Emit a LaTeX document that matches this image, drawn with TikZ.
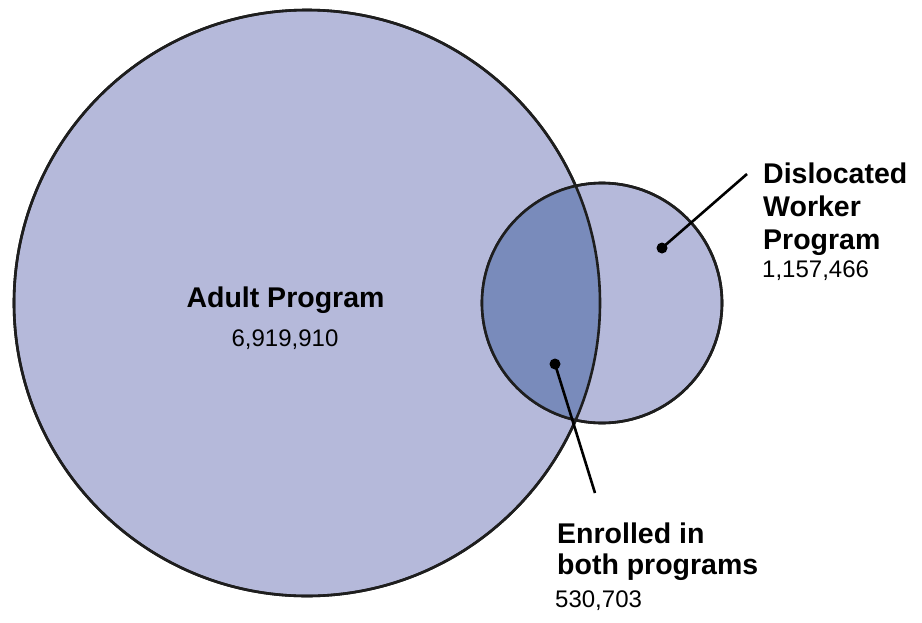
\documentclass[tikz,border=0pt]{standalone}
\usepackage{fontspec}
\setmainfont{Liberation Sans}
\usepackage{tikz}
\usetikzlibrary{positioning}
\definecolor{vennlight}{RGB}{181,185,218}
\definecolor{venndark}{RGB}{121,139,187}
\definecolor{vennline}{RGB}{30,30,30}
\tikzset{
  venn/.style = {circle, draw=vennline, line width=2.6pt, fill=vennlight,
      inner sep=0pt, outer sep=0pt},
  pin dot/.style = {circle, fill=black, inner sep=0pt, minimum size=11pt},
  lead/.style = {line width=2.6pt, draw=black},
  head/.style = {font=\fontsize{28.5}{33}\selectfont\bfseries, align=left,
      inner sep=0pt, anchor=north west},
  count/.style = {font=\fontsize{24}{28}\selectfont, inner sep=0pt}
}

\begin{document}
\begin{tikzpicture}[x=1pt, y=-1pt]
  \useasboundingbox (0,0) rectangle (922,622);

  % the two programs
  \node[venn, minimum size=586pt] (adult) at (307,303) {};
  \node[venn, minimum size=240pt] (dw) at (602,303) {};
  \begin{scope}
    \clip (adult.center) circle[radius=293];
    \fill[venndark] (dw.center) circle[radius=120];
  \end{scope}
  \draw[vennline, line width=2.6pt] (adult.center) circle[radius=293];
  \draw[vennline, line width=2.6pt] (dw.center) circle[radius=120];

  % labels
  \node[font=\fontsize{28.5}{33}\selectfont\bfseries, inner sep=0pt, anchor=base]
    (adultname) at (285.5,307) {Adult Program};
  \node[count, anchor=base] (adultcount) at (285,346) {6,919,910};

  \node[head] (dwname) at (763,162.6) {Dislocated\\Worker\\Program};
  \node[count, anchor=base west] (dwcount) at (762,277) {1,157,466};

  \node[head, font=\fontsize{28.5}{31.5}\selectfont\bfseries] (bothname)
    at (557,522.6) {Enrolled in\\both programs};
  \node[count, anchor=base west] (bothcount) at (555,607) {530,703};

  % leader lines
  \node[pin dot] (dwdot) at (662,248) {};
  \coordinate (dwend) at (747,174);
  \draw[lead] (dwdot.center) -- (dwend);

  \node[pin dot] (bothdot) at (555,364) {};
  \coordinate (bothend) at (595,493);
  \draw[lead] (bothdot.center) -- (bothend);
\end{tikzpicture}
\end{document}
